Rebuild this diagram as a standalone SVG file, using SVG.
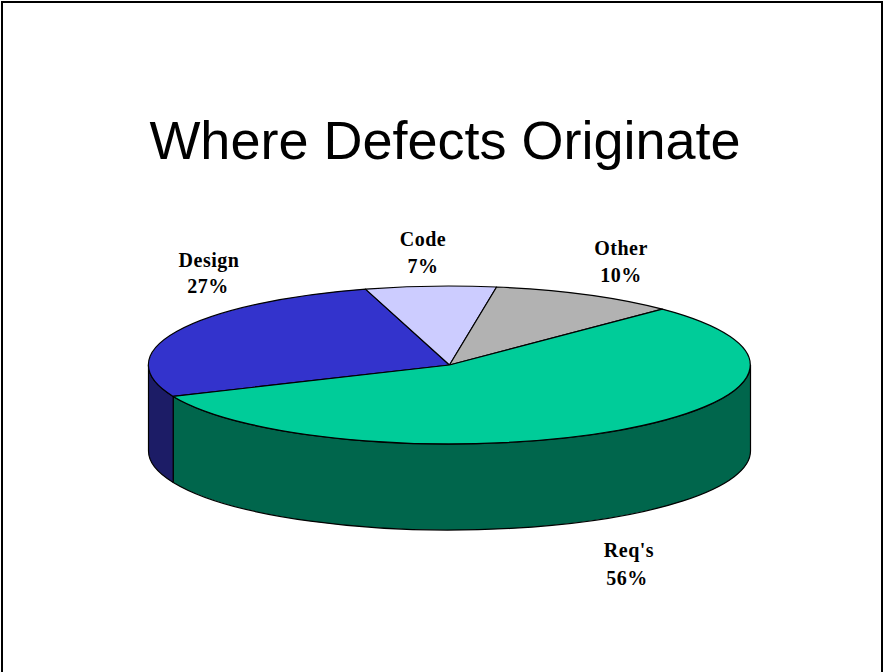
<svg xmlns="http://www.w3.org/2000/svg" width="885" height="672" viewBox="0 0 885 672">
<style>
.title{font-family:"Liberation Sans",Arial,sans-serif;font-size:54px;fill:#000;text-anchor:middle}
.lbl{font-family:"Liberation Serif","Times New Roman",serif;font-size:20px;font-weight:bold;fill:#000;text-anchor:middle;letter-spacing:0.5px}
.sl{stroke:#000;stroke-width:1.2;stroke-linejoin:round}
</style>
<rect x="2" y="2" width="880" height="690" fill="#fff" stroke="#000" stroke-width="2"/>
<text class="title" x="445" y="159">Where Defects Originate</text>
<g id="pie">
  <g id="sides">
    <path class="sl" fill="#00664C" d="M750.5,365 A301,79 0 0 1 173.2,396.4 L173.2,482.4 A301,79 0 0 0 750.5,451 Z"/>
    <path class="sl" fill="#1C1C66" d="M173.2,396.4 A301,79 0 0 1 148.5,365 L148.5,451 A301,79 0 0 0 173.2,482.4 Z"/>
  </g>
  <g id="slice-design">
    <path class="sl" fill="#3333CC" d="M449.5,365 L173.2,396.4 A301,79 0 0 1 365.5,289.1 Z"/>
  </g>
  <g id="slice-code">
    <path class="sl" fill="#CCCCFF" d="M449.5,365 L365.5,289.1 A301,79 0 0 1 496.6,287 Z"/>
  </g>
  <g id="slice-other">
    <path class="sl" fill="#B2B2B2" d="M449.5,365 L496.6,287 A301,79 0 0 1 662.3,309.1 Z"/>
  </g>
  <g id="slice-reqs">
    <path class="sl" fill="#00CC99" d="M449.5,365 L662.3,309.1 A301,79 0 1 1 173.2,396.4 Z"/>
  </g>
</g>
<g id="label-design"><text class="lbl" x="209" y="267">Design</text><text class="lbl" x="208" y="293">27%</text></g>
<g id="label-code"><text class="lbl" x="423" y="246">Code</text><text class="lbl" x="423" y="273">7%</text></g>
<g id="label-other"><text class="lbl" x="621" y="255">Other</text><text class="lbl" x="621" y="282">10%</text></g>
<g id="label-reqs"><text class="lbl" x="629" y="557">Req's</text><text class="lbl" x="627" y="585">56%</text></g>
</svg>
